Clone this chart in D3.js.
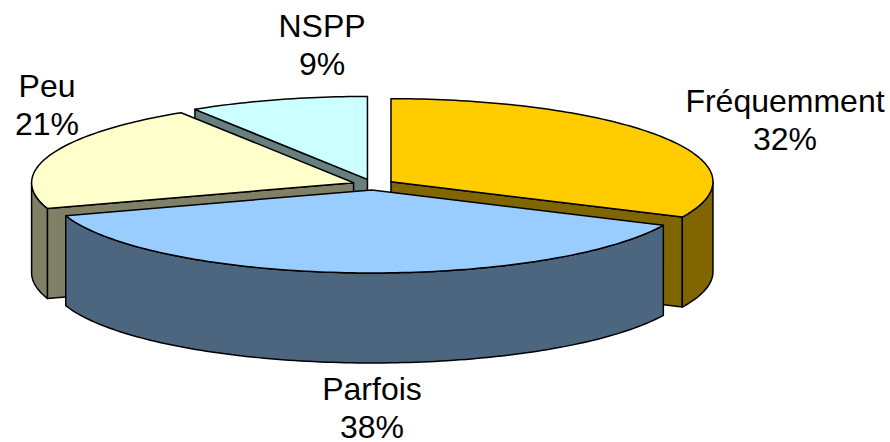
<!DOCTYPE html>
<html>
<head>
<meta charset="utf-8">
<title>Pie</title>
<script src="https://cdn.jsdelivr.net/npm/d3@7"></script>
<style>
  html, body { margin: 0; padding: 0; background: #fff; }
  svg { display: block; }
  text { font-family: "Liberation Sans", Arial, sans-serif; font-size: 32px; fill: #000; }
</style>
</head>
<body>
<div id="chart"></div>
<script>
// values
var categories = ["Fréquemment", "Parfois", "Peu", "NSPP"];
var percents = [32, 38, 21, 9];
var topColors = ["#FFCC00", "#99CCFF", "#FFFFCC", "#CCFFFF"];
var wallColors = ["#806600", "#4D6680", "#808066", "#668080"];

var chartWidth = 890, chartHeight = 442;
var cx = 373.3, cy = 184.6;     // pie centre before the slices are pulled out
var rx = 322, ry = 83;          // ellipse of the tilted pie
var depth = 90;                 // height of the cylinder
var explode = 0.065;

// label centre x and first baseline, same order as categories
var labelX = [785, 372, 47, 322];
var labelY = [112, 400, 97, 37];
var lineHeight = 38;

var svg = d3.select("#chart").append("svg")
    .attr("width", chartWidth)
    .attr("height", chartHeight);

var xScale = d3.scaleLinear().domain([-1, 1]).range([cx - rx, cx + rx]);
var yScale = d3.scaleLinear().domain([-1, 1]).range([cy + ry, cy - ry]);

var pie = d3.pie().sort(null).value(function(d) { return d; });
var slices = pie(percents);

// point on the pie for a slice at angle a, radius r, dz pixels below the top
function project(d, a, r, dz) {
  var mid = (d.startAngle + d.endAngle) / 2;
  var ux = explode * Math.sin(mid) + r * Math.sin(a);
  var uy = explode * Math.cos(mid) + r * Math.cos(a);
  return [xScale(ux), yScale(uy) + dz];
}

function arcPoints(d, a0, a1, dz) {
  var n = Math.max(2, Math.ceil(Math.abs(a1 - a0) / 0.02));
  return d3.range(n + 1).map(function(i) {
    return project(d, a0 + (a1 - a0) * i / n, 1, dz);
  });
}

var line = d3.line().curve(d3.curveLinear);

function drawShape(pts, fill) {
  svg.append("path")
    .attr("d", line(pts) + "Z")
    .attr("fill", fill)
    .attr("stroke", "#000")
    .attr("stroke-width", 1.5)
    .attr("stroke-linejoin", "round");
}

// back to front
var order = [3, 0, 2, 1];
order.forEach(function(i) {
  var d = slices[i];
  var wall = wallColors[i];
  var a0 = d.startAngle, a1 = d.endAngle;

  // flat cut faces, only the ones turned to the viewer
  [[a0, Math.sin(a0) < -1e-6], [a1, Math.sin(a1) > 1e-6]].forEach(function(f) {
    if (!f[1]) return;
    drawShape([
      project(d, f[0], 0, 0),
      project(d, f[0], 1, 0),
      project(d, f[0], 1, depth),
      project(d, f[0], 0, depth)
    ], wall);
  });

  // outer rim, the front half of the ellipse only
  var r0 = Math.max(a0, Math.PI / 2), r1 = Math.min(a1, Math.PI * 1.5);
  if (r1 > r0) {
    drawShape(arcPoints(d, r0, r1, 0).concat(arcPoints(d, r1, r0, depth)), wall);
  }

  // top
  drawShape([project(d, a0, 0, 0)].concat(arcPoints(d, a0, a1, 0)), topColors[i]);
});

// labels
categories.forEach(function(name, i) {
  var t = svg.append("text").attr("text-anchor", "middle");
  t.append("tspan").attr("x", labelX[i]).attr("y", labelY[i]).text(name);
  t.append("tspan").attr("x", labelX[i]).attr("y", labelY[i] + lineHeight).text(percents[i] + "%");
});
</script>
</body>
</html>
